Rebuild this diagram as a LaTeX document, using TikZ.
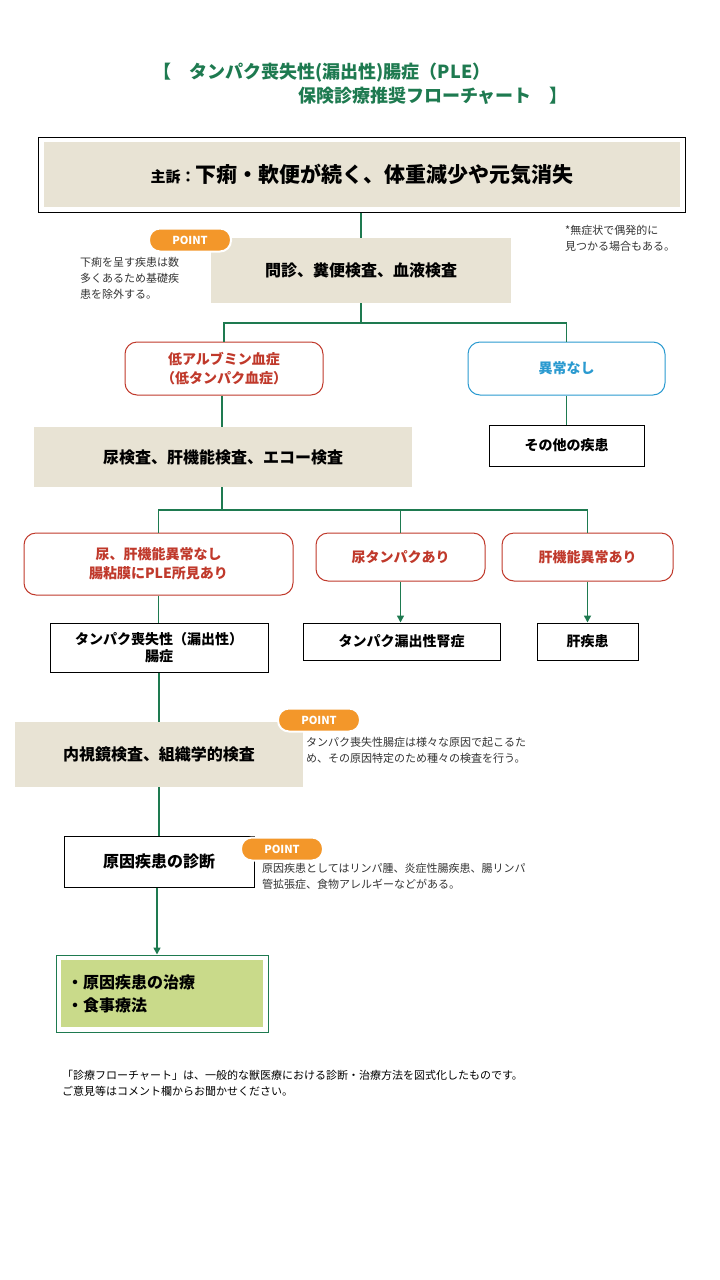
\documentclass[tikz,border=0pt]{standalone}
\usepackage{fontspec}
\setmainfont{Noto Sans CJK JP}
\usetikzlibrary{arrows.meta}
\definecolor{flowgreen}{HTML}{1E7A50}
\definecolor{beige}{HTML}{E8E3D4}
\definecolor{redtxt}{HTML}{C0392B}
\definecolor{bluetxt}{HTML}{2A9AD0}
\definecolor{pointorange}{HTML}{F3972A}
\definecolor{treatgreen}{HTML}{C9DA8A}
\tikzstyle{testblock} = [rectangle, fill=beige, text centered, font=\fontsize{16}{20}\selectfont\bfseries]
\tikzstyle{resblock} = [rectangle, draw=redtxt, fill=white, rounded corners=12pt, line width=1pt,
    text=redtxt, align=center, font=\fontsize{14}{19}\selectfont\bfseries]
\tikzstyle{okblock} = [resblock, draw=bluetxt, text=bluetxt]
\tikzstyle{diseaseblock} = [rectangle, draw, fill=white, line width=1pt, align=center,
    font=\fontsize{14}{18}\selectfont\bfseries]
\tikzstyle{pointtag} = [rectangle, rounded corners=11pt, fill=pointorange, draw=white, line width=2pt,
    text=white, minimum width=82pt, minimum height=23pt, font=\fontsize{11}{12}\selectfont\bfseries]
\tikzstyle{note} = [align=left, text=black!80, font=\fontsize{11}{16}\selectfont, anchor=north west, inner sep=0pt]
\tikzstyle{line} = [draw=flowgreen, line width=1.6pt]
\tikzstyle{arrowline} = [line, -{Triangle[length=7pt,width=7pt]}]
\begin{document}
\begin{tikzpicture}[x=1pt, y=-1pt]
    \useasboundingbox (0,0) rectangle (720,1280);
    % Title
    \node [text=flowgreen, font=\fontsize{18}{22}\selectfont\bfseries] (title1) at (322,73) {【\quad タンパク喪失性(漏出性)腸症（PLE）};
    \node [text=flowgreen, font=\fontsize{18}{22}\selectfont\bfseries] (title2) at (433,96) {保険診療推奨フローチャート\quad 】};

    % Main nodes
    \node [rectangle, draw, line width=1pt, minimum width=647pt, minimum height=75pt] (complaint) at (361.5,174.5) {};
    \node [testblock, minimum width=636pt, minimum height=65pt] (complaintin) at (362,174.5)
        {{\fontsize{15}{18}\selectfont 主訴：}{\fontsize{21}{24}\selectfont 下痢・軟便が続く、体重減少や元気消失}};
    \node [testblock, minimum width=300pt, minimum height=65pt] (interview) at (361,270.5) {問診、糞便検査、血液検査};
    \node [resblock, minimum width=198pt, minimum height=53pt] (lowalb) at (224,368.5) {低アルブミン血症\\（低タンパク血症）};
    \node [okblock, minimum width=197pt, minimum height=53pt] (normal) at (566.5,368.5) {異常なし};
    \node [diseaseblock, minimum width=155pt, minimum height=41pt] (other) at (566.5,445.5) {その他の疾患};
    \node [testblock, minimum width=378pt, minimum height=60pt] (urine) at (223,457) {尿検査、肝機能検査、エコー検査};
    \node [resblock, minimum width=269pt, minimum height=62pt] (pleres) at (158.5,564) {尿、肝機能異常なし\\腸粘膜にPLE所見あり};
    \node [resblock, minimum width=169pt, minimum height=48pt] (protein) at (400.5,557) {尿タンパクあり};
    \node [resblock, minimum width=171pt, minimum height=48pt] (liverres) at (587.5,557) {肝機能異常あり};
    \node [diseaseblock, minimum width=218pt, minimum height=49pt, font=\fontsize{14}{17}\selectfont\bfseries] (ple) at (159,647.5) {タンパク喪失性（漏出性）\\腸症};
    \node [diseaseblock, minimum width=197pt, minimum height=37pt] (kidney) at (401.5,641.5) {タンパク漏出性腎症};
    \node [diseaseblock, minimum width=101pt, minimum height=37pt] (liver) at (587.5,641.5) {肝疾患};
    \node [testblock, minimum width=288pt, minimum height=65pt] (endo) at (159,754.5) {内視鏡検査、組織学的検査};
    \node [diseaseblock, minimum width=190pt, minimum height=51pt, font=\fontsize{16}{20}\selectfont\bfseries] (diag) at (159,861.5) {原因疾患の診断};
    \node [rectangle, draw=flowgreen, line width=1pt, minimum width=212pt, minimum height=77pt] (treat) at (162,993.5) {};
    \node [rectangle, fill=treatgreen, minimum width=202pt, minimum height=67pt, align=left,
        font=\fontsize{16}{23}\selectfont\bfseries, text width=190pt] (treatin) at (162,993.5) {・原因疾患の治療\\・食事療法};

    % Point tags and notes
    \node [pointtag] (point1) at (190,240) {POINT};
    \node [note] (note1) at (80,257) {下痢を呈す疾患は数\\多くあるため基礎疾\\患を除外する。};
    \node [note] (note2) at (565,225) {*無症状で偶発的に\\見つかる場合もある。};
    \node [pointtag] (point2) at (319,720) {POINT};
    \node [note] (note3) at (306,737) {タンパク喪失性腸症は様々な原因で起こるた\\め、その原因特定のため種々の検査を行う。};
    \node [pointtag] (point3) at (282,849) {POINT};
    \node [note] (note4) at (262,863) {原因疾患としてはリンパ腫、炎症性腸疾患、腸リンパ\\管拡張症、食物アレルギーなどがある。};
    \node [note, text=black] (footer) at (62,1070) {「診療フローチャート」は、一般的な獣医療における診断・治療方法を図式化したものです。\\ご意見等はコメント欄からお聞かせください。};

    % Draw edges
    \coordinate (fork1) at (361,323);
    \coordinate (fork2) at (222,510);
    \path [line] (interview.north |- complaint.south) -- (interview.north);
    \path [line] (interview.south) -- (fork1) -| (lowalb.north);
    \path [line] (fork1) -| (normal.north);
    \path [line] (normal.south) -- (other.north);
    \path [line] (lowalb.south) ++(-2,0) coordinate (lowout) -- (lowout |- urine.north);
    \path [line] (urine.south -| fork2) -- (fork2) -| (pleres.north);
    \path [line] (fork2) -| (protein.north);
    \path [line] (fork2) -| (liverres.north);
    \path [line] (pleres.south) -- (pleres.south |- ple.north);
    \path [arrowline] (protein.south) -- (protein.south |- kidney.north);
    \path [arrowline] (liverres.south) -- (liverres.south |- liver.north);
    \path [line] (ple.south) -- (endo.north);
    \path [line] (endo.south) -- (diag.north);
    \path [arrowline] (diag.south) ++(-2,0) coordinate (diagout) -- (diagout |- treat.north);
\end{tikzpicture}
\end{document}
